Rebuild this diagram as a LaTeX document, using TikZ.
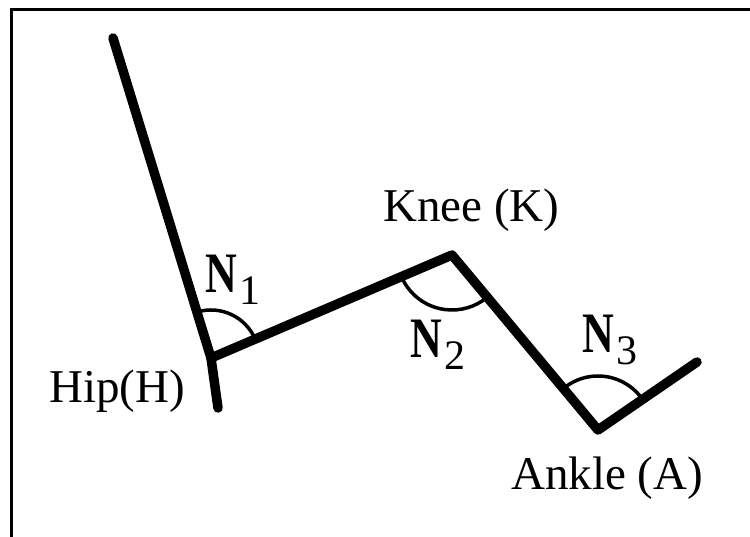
\documentclass[tikz,border=0pt]{standalone}
\usepackage{fontspec}
\setmainfont{Liberation Serif}
\usepackage{graphicx}

\newcommand{\angname}[1]{\scalebox{1}[1.3]{\bfseries N}\kern3pt\raisebox{-12pt}{\fontsize{42}{44}\selectfont #1}}

\begin{document}
\begin{tikzpicture}[
    x=1pt, y=1pt,
    limb/.style={line width=9.5pt, line cap=round, line join=round},
    anglearc/.style={line width=3.5pt},
    jointlabel/.style={inner sep=0pt, anchor=base west,
                       font=\fontsize{47}{50}\selectfont},
    anglelabel/.style={inner sep=0pt, anchor=base west,
                       font=\fontsize{44}{50}\selectfont}
]
\useasboundingbox (0,0) rectangle (750,537);
\draw[line width=3pt] (11,0) -- (11,527) -- (750,527);

\coordinate (head)  at (113,499);
\coordinate (hip)   at (211,179);
\coordinate (tail)  at (218,129);
\coordinate (knee)  at (452,282);
\coordinate (ankle) at (598,107);
\coordinate (toe)   at (697,175);

\draw[limb] (head) -- (hip) -- (tail);
\draw[limb] (hip) -- (knee) -- (ankle) -- (toe);

\draw[anglearc] ([shift={(23:48)}]hip)    arc[start angle=23,   end angle=107, radius=48];
\draw[anglearc] ([shift={(203:55)}]knee)  arc[start angle=203,  end angle=310, radius=55];
\draw[anglearc] ([shift={(34.5:54)}]ankle) arc[start angle=34.5, end angle=130, radius=54];

\node (hiptext)   [jointlabel] at (49,134)  {Hip(H)};
\node (kneetext)  [jointlabel] at (383,315) {Knee (K)};
\node (ankletext) [jointlabel] at (511,47)  {Ankle (A)};

\node (nhip)   [anglelabel] at (205,244) {\angname{1}};
\node (nknee)  [anglelabel] at (410,179) {\angname{2}};
\node (nankle) [anglelabel] at (582,184) {\angname{3}};
\end{tikzpicture}
\end{document}
